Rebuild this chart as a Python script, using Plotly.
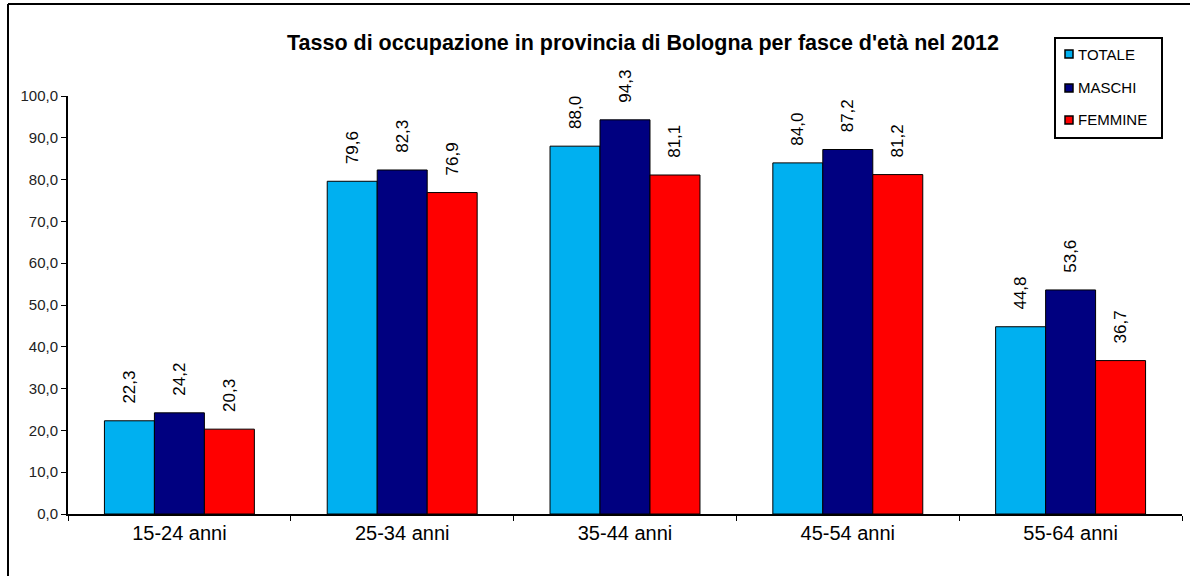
import plotly.graph_objects as go

categories = ["15-24 anni", "25-34 anni", "35-44 anni", "45-54 anni", "55-64 anni"]
totale = [22.3, 79.6, 88.0, 84.0, 44.8]
maschi = [24.2, 82.3, 94.3, 87.2, 53.6]
femmine = [20.3, 76.9, 81.1, 81.2, 36.7]
series_names = ["TOTALE", "MASCHI", "FEMMINE"]
series_values = [totale, maschi, femmine]
colors = ["#00B0F0", "#000080", "#FF0000"]
title = "Tasso di occupazione in provincia di Bologna per fasce d'età nel 2012"

W, H = 1190, 576
L, R, T, B = 68, 8, 96, 62
pw, ph = W - L - R, H - T - B
FONT = "Liberation Sans, Arial"

def px_x(x):
    return (x - L) / pw

def px_y(y):
    return (H - B - y) / ph

fig = go.Figure()
for name, vals, col in zip(series_names, series_values, colors):
    fig.add_trace(go.Bar(
        x=categories, y=vals, name=name, showlegend=False,
        marker=dict(color=col, line=dict(color="black", width=1)),
        texttemplate="\u00a0\u00a0\u00a0%{y:.1f}", textposition="outside", textangle=-90,
        textfont=dict(family=FONT, size=17, color="black"),
        cliponaxis=False,
    ))

shapes = [
    dict(type="line", xref="paper", yref="paper", x0=px_x(8), x1=px_x(1200),
         y0=px_y(4), y1=px_y(4), line=dict(color="black", width=2)),
    dict(type="line", xref="paper", yref="paper", x0=px_x(8), x1=px_x(8),
         y0=px_y(4), y1=px_y(590), line=dict(color="black", width=2)),
    dict(type="rect", xref="paper", yref="paper", x0=px_x(1055), x1=px_x(1162),
         y0=px_y(138), y1=px_y(38), fillcolor="white", line=dict(color="black", width=2),
         layer="above"),
]
annotations = []
legend_y = [54, 88, 120]
for name, col, ly in zip(series_names, colors, legend_y):
    shapes.append(dict(type="rect", xref="paper", yref="paper",
                       x0=px_x(1065), x1=px_x(1073), y0=px_y(ly + 4), y1=px_y(ly - 4),
                       fillcolor=col, line=dict(color="black", width=1.5), layer="above"))
    annotations.append(dict(text=name, xref="paper", yref="paper", x=px_x(1076), y=px_y(ly),
                            xanchor="left", yanchor="middle", showarrow=False,
                            font=dict(family=FONT, size=15, color="black")))

fig.update_layout(
    width=W, height=H,
    margin=dict(l=L, r=R, t=T, b=B, autoexpand=False),
    paper_bgcolor="white", plot_bgcolor="white",
    separators=",.",
    barmode="group", bargap=0.327, bargroupgap=0,
    showlegend=False,
    font=dict(family=FONT, color="black"),
    title=dict(text="<b>" + title + "</b>", x=px_x(643), xref="paper", xanchor="center",
               y=1 - 42 / H, yanchor="middle",
               font=dict(size=21.5, family=FONT, color="black")),
    xaxis=dict(showline=True, linecolor="black", linewidth=2, ticks="outside",
               tickson="boundaries", ticklen=5, tickcolor="black", tickwidth=1,
               tickfont=dict(size=20, color="black"), showgrid=False, automargin=False),
    yaxis=dict(range=[0, 100], dtick=10, tickformat=".1f", showline=True, linecolor="black",
               linewidth=2, ticks="outside", ticklen=5, tickcolor="black", tickwidth=1,
               tickfont=dict(size=15, color="#222222"), showgrid=False, zeroline=False,
               automargin=False),
    shapes=shapes,
    annotations=annotations,
)

fig.write_html("out.html", config={"displayModeBar": False},
               post_script="document.body.style.margin='0';")
